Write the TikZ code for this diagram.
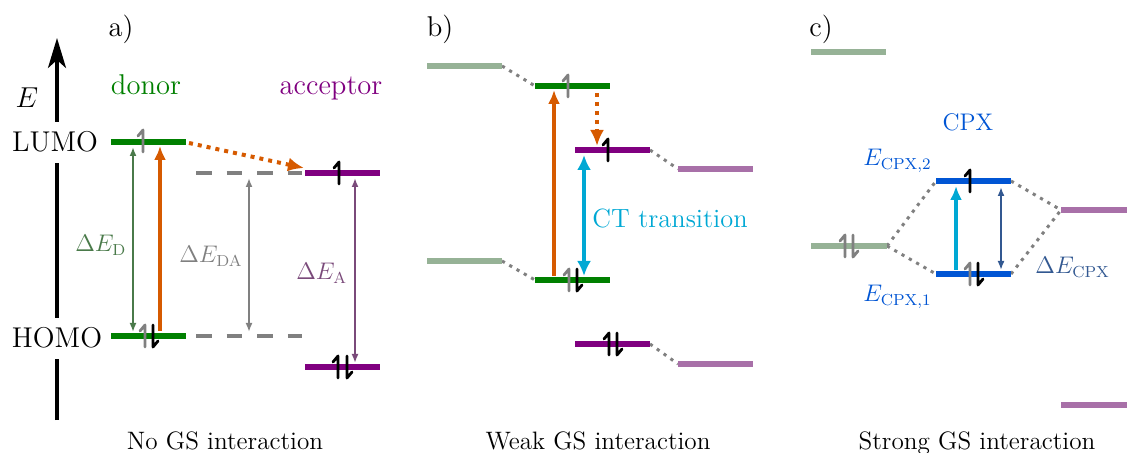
\documentclass[tikz,border=0pt]{standalone}
\usetikzlibrary{arrows.meta}
\definecolor{dgreen}{RGB}{0,128,0}
\definecolor{dpurple}{RGB}{128,0,128}
\definecolor{lgreen}{RGB}{150,178,150}
\definecolor{lpurple}{RGB}{168,112,168}
\definecolor{orng}{RGB}{214,90,0}
\definecolor{sgreen}{RGB}{74,122,74}
\definecolor{spurple}{RGB}{122,74,122}
\definecolor{cyanish}{RGB}{0,168,212}
\definecolor{cpxblue}{RGB}{0,85,212}
\definecolor{navy}{RGB}{50,88,145}
\definecolor{midgray}{RGB}{128,128,128}
\tikzset{
  lvl/.style={line width=3.25pt},
  conn/.style={midgray, line width=1.5pt, dash pattern=on 1.6pt off 2.6pt},
  dashlvl/.style={midgray, line width=1.75pt, dash pattern=on 7.8pt off 7.5pt},
  thinarr/.style={line width=1pt, {Latex[length=4.5pt,width=3.5pt]}-{Latex[length=4.5pt,width=3.5pt]}},
  thickarr/.style={line width=2pt, -{Latex[length=7pt,width=6pt]}},
  dblarr/.style={line width=2pt, {Latex[length=7.5pt,width=7pt]}-{Latex[length=7.5pt,width=7pt]}},
  dotarr/.style={orng, line width=2pt, dash pattern=on 2pt off 2.5pt, -{Latex[length=8pt,width=7pt]}},
  big/.style={font=\fontsize{14.3}{16}\selectfont, inner sep=0pt},
  med/.style={font=\fontsize{12}{14}\selectfont, inner sep=0pt},
  captxt/.style={font=\fontsize{12.6}{14}\selectfont, inner sep=0pt},
  spinup/.pic={\draw[line width=1.4pt,line cap=round,line join=round] (-5,-5) -- (0,-11) -- (0,11);},
  spindn/.pic={\draw[line width=1.4pt,line cap=round,line join=round] (0,-11) -- (0,11) -- (5,5);},
}
\begin{document}
\begin{tikzpicture}[x=0.5pt,y=-0.5pt]
\useasboundingbox (0,0) rectangle (1127,453);

% ---------------- panel a ----------------
\coordinate (axbot) at (57,420);
\coordinate (axtop) at (57,38);
\draw[line width=1.75pt, -{Stealth[length=15pt,width=9pt,inset=4pt]}] (axbot) -- (axtop);
\node[big, fill=white, inner xsep=1pt, inner ysep=5pt, anchor=base] (lumo) at (55,152) {LUMO};
\node[big, fill=white, inner xsep=1pt, inner ysep=5pt, anchor=base] (homo) at (57,348) {HOMO};
\node[big, anchor=base] (Elbl) at (27,108) {$E$};
\node[big, anchor=base] (la) at (121,37) {a)};
\node[big, anchor=base, text=dgreen] (donor) at (146,95) {donor};
\node[big, anchor=base, text=dpurple] (acceptor) at (331,95) {acceptor};

\coordinate (aDL1) at (111,142); \coordinate (aDL2) at (186,142);
\coordinate (aDH1) at (111,336); \coordinate (aDH2) at (186,336);
\coordinate (aAL1) at (305,173); \coordinate (aAL2) at (380,173);
\coordinate (aAH1) at (305,367); \coordinate (aAH2) at (380,367);
\coordinate (aDA1) at (196,173); \coordinate (aDA2) at (302,173);
\coordinate (aDB1) at (196,336); \coordinate (aDB2) at (302,336);

\draw[dashlvl] (aDA1) -- (aDA2);
\draw[dashlvl] (aDB1) -- (aDB2);

\coordinate (aEDt) at (133,147); \coordinate (aEDb) at (133,332);
\coordinate (aOrt) at (160,146); \coordinate (aOrb) at (160,331);
\coordinate (aEDAt) at (249,178); \coordinate (aEDAb) at (249,332);
\coordinate (aEAt) at (355,178); \coordinate (aEAb) at (355,363);
\draw[thinarr, sgreen] (aEDt) -- (aEDb);
\draw[thickarr, orng] (aOrb) -- (aOrt);
\draw[thinarr, midgray] (aEDAt) -- (aEDAb);
\draw[thinarr, spurple] (aEAt) -- (aEAb);

\draw[lvl, dgreen] (aDL1) -- (aDL2);
\draw[lvl, dgreen] (aDH1) -- (aDH2);
\draw[lvl, dpurple] (aAL1) -- (aAL2);
\draw[lvl, dpurple] (aAH1) -- (aAH2);

\coordinate (aDots) at (189,143); \coordinate (aDote) at (304,168);
\draw[dotarr] (aDots) -- (aDote);

\pic[midgray] at (143,141) {spinup};
\pic[midgray] at (145,336) {spinup};
\pic[black] at (153,336) {spindn};
\pic[black] at (339,173) {spinup};
\pic[black] at (338,367) {spinup};
\pic[black] at (347,367) {spindn};

\node[med, anchor=base west, text=sgreen] (lED) at (75,252) {$\Delta E_{\mathrm{D}}$};
\node[med, anchor=base west, text=midgray] (lEDA) at (179,263) {$\Delta E_{\mathrm{DA}}$};
\node[med, anchor=base west, text=spurple] (lEA) at (296,280) {$\Delta E_{\mathrm{A}}$};
\node[captxt, anchor=base] (capa) at (225,449) {No GS interaction};

% ---------------- panel b ----------------
\node[big, anchor=base] (lb) at (440,37) {b)};
\coordinate (bGL1) at (427,66); \coordinate (bGL2) at (502,66);
\coordinate (bGH1) at (427,261); \coordinate (bGH2) at (502,261);
\coordinate (bDL1) at (535,86); \coordinate (bDL2) at (610,86);
\coordinate (bDH1) at (535,280); \coordinate (bDH2) at (610,280);
\coordinate (bAL1) at (575,150); \coordinate (bAL2) at (650,150);
\coordinate (bAH1) at (575,344); \coordinate (bAH2) at (650,344);
\coordinate (bPL1) at (678,169); \coordinate (bPL2) at (753,169);
\coordinate (bPH1) at (678,364); \coordinate (bPH2) at (753,364);

\draw[conn] (bGL2) -- (bDL1);
\draw[conn] (bGH2) -- (bDH1);
\draw[conn] (bAL2) -- (bPL1);
\draw[conn] (bAH2) -- (bPH1);

\draw[lvl, lgreen] (bGL1) -- (bGL2);
\draw[lvl, lgreen] (bGH1) -- (bGH2);
\draw[lvl, lpurple] (bPL1) -- (bPL2);
\draw[lvl, lpurple] (bPH1) -- (bPH2);

\coordinate (bOrb) at (554,276); \coordinate (bOrt) at (554,90);
\coordinate (bDots) at (597,93); \coordinate (bDote) at (597,146);
\coordinate (bCTt) at (584,155); \coordinate (bCTb) at (584,276);
\draw[thickarr, orng] (bOrb) -- (bOrt);
\draw[dotarr] (bDots) -- (bDote);
\draw[dblarr, cyanish] (bCTt) -- (bCTb);

\draw[lvl, dgreen] (bDL1) -- (bDL2);
\draw[lvl, dgreen] (bDH1) -- (bDH2);
\draw[lvl, dpurple] (bAL1) -- (bAL2);
\draw[lvl, dpurple] (bAH1) -- (bAH2);

\pic[midgray] at (568,86) {spinup};
\pic[midgray] at (569,280) {spinup};
\pic[black] at (577,280) {spindn};
\pic[black] at (608,150) {spinup};
\pic[black] at (609,344) {spinup};
\pic[black] at (617,344) {spindn};

\node[font=\fontsize{13.2}{15}\selectfont, inner sep=0pt, anchor=base west, text=cyanish] (ct) at (592,228) {CT transition};
\node[captxt, anchor=base] (capb) at (598,449) {Weak GS interaction};

% ---------------- panel c ----------------
\node[big, anchor=base] (lc) at (821,37) {c)};
\coordinate (cGT1) at (811,52); \coordinate (cGT2) at (886,52);
\coordinate (cGM1) at (811,246); \coordinate (cGM2) at (887,246);
\coordinate (cPM1) at (1061,210); \coordinate (cPM2) at (1127,210);
\coordinate (cPB1) at (1061,405); \coordinate (cPB2) at (1127,405);
\coordinate (cCT1) at (936,181); \coordinate (cCT2) at (1011,181);
\coordinate (cCB1) at (936,274); \coordinate (cCB2) at (1011,274);

\draw[conn] (cGM2) -- (cCT1);
\draw[conn] (cGM2) -- (cCB1);
\draw[conn] (cCT2) -- (cPM1);
\draw[conn] (cCB2) -- (cPM1);

\draw[lvl, lgreen] (cGT1) -- (cGT2);
\draw[lvl, lgreen] (cGM1) -- (cGM2);
\draw[lvl, lpurple] (cPM1) -- (cPM2);
\draw[lvl, lpurple] (cPB1) -- (cPB2);

\coordinate (cCyb) at (956,270); \coordinate (cCyt) at (956,186);
\coordinate (cNvt) at (1001,187); \coordinate (cNvb) at (1001,270);
\draw[line width=2pt, cyanish, -{Latex[length=7pt,width=6pt]}] (cCyb) -- (cCyt);
\draw[thinarr, navy] (cNvt) -- (cNvb);

\draw[lvl, cpxblue] (cCT1) -- (cCT2);
\draw[lvl, cpxblue] (cCB1) -- (cCB2);

\pic[midgray] at (845,246) {spinup};
\pic[midgray] at (853,246) {spindn};
\pic[black] at (970,181) {spinup};
\pic[midgray] at (970,274) {spinup};
\pic[black] at (978,274) {spindn};

\node[med, anchor=base, text=cpxblue] (cpx) at (968,131) {CPX};
\node[med, anchor=base west, text=cpxblue] (ec2) at (863,166) {$E_{\mathrm{CPX,2}}$};
\node[med, anchor=base west, text=cpxblue] (ec1) at (863,302) {$E_{\mathrm{CPX,1}}$};
\node[med, anchor=base west, text=navy] (dec) at (1035,274) {$\Delta E_{\mathrm{CPX}}$};
\node[captxt, anchor=base] (capc) at (977,449) {Strong GS interaction};
\end{tikzpicture}
\end{document}
